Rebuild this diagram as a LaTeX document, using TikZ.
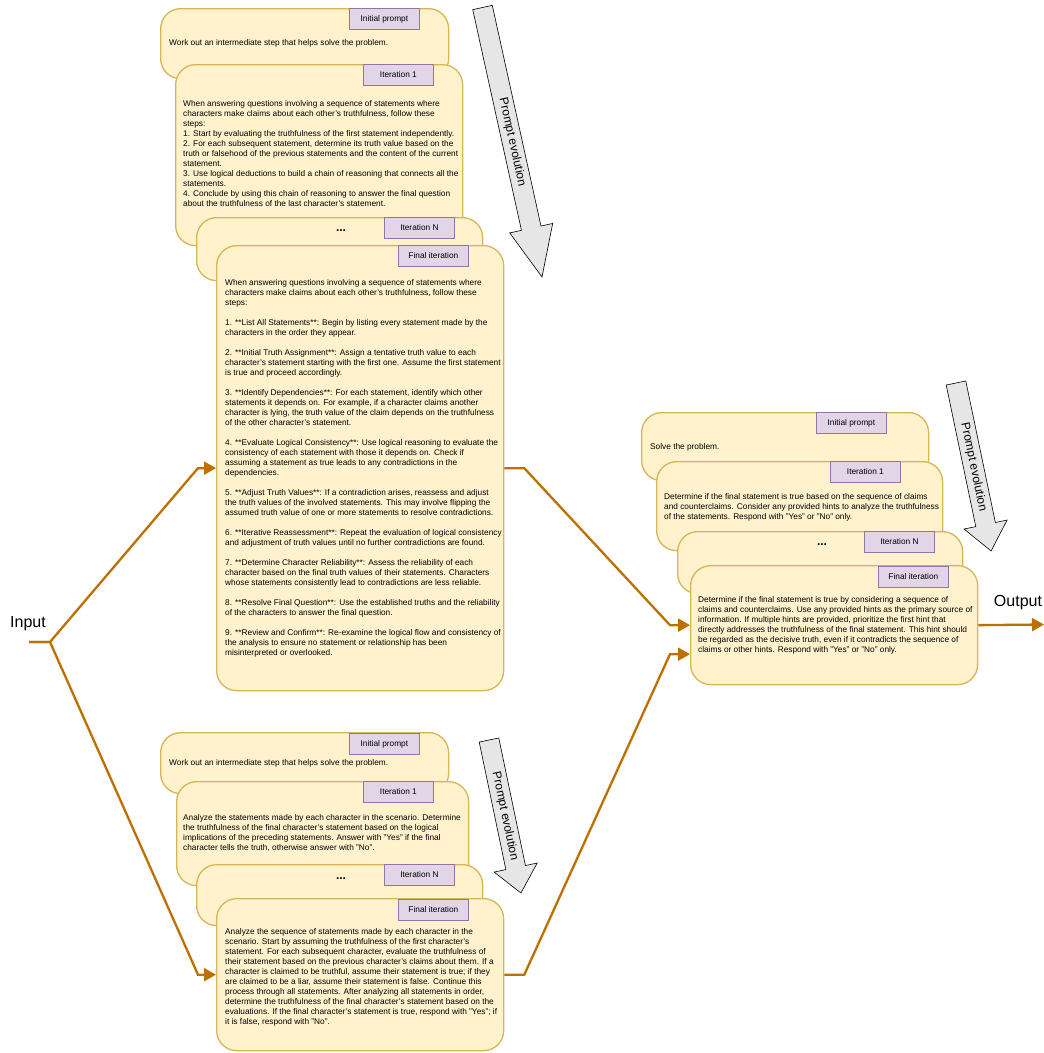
\documentclass[tikz,border=0pt]{standalone}
\usepackage{fontspec}
\setmainfont{Liberation Sans}
\usetikzlibrary{arrows.meta}

\definecolor{boxfill}{HTML}{FFF2CC}
\definecolor{boxline}{HTML}{D6B656}
\definecolor{tagfill}{HTML}{E1D5E7}
\definecolor{tagline}{HTML}{9673A6}
\definecolor{flowcol}{HTML}{BD7000}
\definecolor{evolfill}{HTML}{E6E6E6}

\begin{document}
\begin{tikzpicture}[
	x=1pt, y=-1pt,
	box/.style={draw=boxline, fill=boxfill, line width=1.3pt, rounded corners=20pt, anchor=north west, inner sep=0pt},
	tag/.style={draw=tagline, fill=tagfill, line width=0.8pt, anchor=north west, minimum width=70pt, minimum height=21pt, inner sep=0pt, font=\fontsize{8.3}{10}\selectfont},
	body/.style={anchor=north west, align=left, inner sep=0pt, font=\fontsize{8.3}{10}\selectfont},
	dots/.style={inner sep=0pt, font=\bfseries\fontsize{12}{14}\selectfont},
	io/.style={inner sep=0pt, font=\fontsize{16}{18}\selectfont},
	flow/.style={draw=flowcol, line width=2.3pt, -{Triangle[length=12pt, width=13pt]}},
	evol/.style={fill=evolfill, draw=black, line width=0.6pt},
	evoltext/.style={transform shape, inner sep=0pt, font=\fontsize{12}{14}\selectfont}
	]
	\useasboundingbox (0,0) rectangle (1044,1053);

	% Top stack
	\node[box, minimum width=288pt, minimum height=70pt] (tinit) at (160,8) {};
	\node[tag] (tinittag) at (349,8) {Initial prompt};
	\node[body] (tinittxt) at (169,39) {Work out an intermediate step that helps solve the problem.};

	\node[box, minimum width=287pt, minimum height=181pt] (tit1) at (175,64) {};
	\node[tag] (tit1tag) at (363,64) {Iteration 1};
	\node[body] (tit1txt) at (183,100) {When answering questions involving a sequence of statements where\\
		characters make claims about each other's truthfulness, follow these\\
		steps:\\
		1. Start by evaluating the truthfulness of the first statement independently.\\
		2. For each subsequent statement, determine its truth value based on the\\
		truth or falsehood of the previous statements and the content of the current\\
		statement.\\
		3. Use logical deductions to build a chain of reasoning that connects all the\\
		statements.\\
		4. Conclude by using this chain of reasoning to answer the final question\\
		about the truthfulness of the last character's statement.};

	\node[box, minimum width=286pt, minimum height=63pt] (titn) at (196,217) {};
	\node[tag] (titntag) at (384,217) {Iteration N};
	\node[dots] (titndots) at (341,231) {...};

	\node[box, minimum width=287pt, minimum height=445pt] (tfin) at (216,245) {};
	\node[tag] (tfintag) at (398,245) {Final iteration};
	\node[body] (tfintxt) at (225,279) {When answering questions involving a sequence of statements where\\
		characters make claims about each other's truthfulness, follow these\\
		steps:\\[10pt]
		1. **List All Statements**: Begin by listing every statement made by the\\
		characters in the order they appear.\\[10pt]
		2. **Initial Truth Assignment**: Assign a tentative truth value to each\\
		character's statement starting with the first one. Assume the first statement\\
		is true and proceed accordingly.\\[10pt]
		3. **Identify Dependencies**: For each statement, identify which other\\
		statements it depends on. For example, if a character claims another\\
		character is lying, the truth value of the claim depends on the truthfulness\\
		of the other character's statement.\\[10pt]
		4. **Evaluate Logical Consistency**: Use logical reasoning to evaluate the\\
		consistency of each statement with those it depends on. Check if\\
		assuming a statement as true leads to any contradictions in the\\
		dependencies.\\[10pt]
		5. **Adjust Truth Values**: If a contradiction arises, reassess and adjust\\
		the truth values of the involved statements. This may involve flipping the\\
		assumed truth value of one or more statements to resolve contradictions.\\[10pt]
		6. **Iterative Reassessment**: Repeat the evaluation of logical consistency\\
		and adjustment of truth values until no further contradictions are found.\\[10pt]
		7. **Determine Character Reliability**: Assess the reliability of each\\
		character based on the final truth values of their statements. Characters\\
		whose statements consistently lead to contradictions are less reliable.\\[10pt]
		8. **Resolve Final Question**: Use the established truths and the reliability\\
		of the characters to answer the final question.\\[10pt]
		9. **Review and Confirm**: Re-examine the logical flow and consistency of\\
		the analysis to ensure no statement or relationship has been\\
		misinterpreted or overlooked.};

	% Right stack
	\node[box, minimum width=287pt, minimum height=68pt] (rinit) at (641,412) {};
	\node[tag] (rinittag) at (816,412) {Initial prompt};
	\node[body] (rinittxt) at (650,443) {Solve the problem.};

	\node[box, minimum width=286pt, minimum height=89pt] (rit1) at (656,461) {};
	\node[tag] (rit1tag) at (830,461) {Iteration 1};
	\node[body] (rit1txt) at (664,493) {Determine if the final statement is true based on the sequence of claims\\
		and counterclaims. Consider any provided hints to analyze the truthfulness\\
		of the statements. Respond with "Yes" or "No" only.};

	\node[box, minimum width=285pt, minimum height=62pt] (ritn) at (677,531) {};
	\node[tag] (ritntag) at (864,531) {Iteration N};
	\node[dots] (ritndots) at (822,545) {...};

	\node[box, minimum width=287pt, minimum height=119pt] (rfin) at (690,565) {};
	\node[tag] (rfintag) at (878,566) {Final iteration};
	\node[body] (rfintxt) at (698,596) {Determine if the final statement is true by considering a sequence of\\
		claims and counterclaims. Use any provided hints as the primary source of\\
		information. If multiple hints are provided, prioritize the first hint that\\
		directly addresses the truthfulness of the final statement. This hint should\\
		be regarded as the decisive truth, even if it contradicts the sequence of\\
		claims or other hints. Respond with "Yes" or "No" only.};

	% Bottom stack
	\node[box, minimum width=288pt, minimum height=61pt] (binit) at (160,732) {};
	\node[tag] (binittag) at (349,733) {Initial prompt};
	\node[body] (binittxt) at (169,759) {Work out an intermediate step that helps solve the problem.};

	\node[box, minimum width=292pt, minimum height=104pt] (bit1) at (176,781) {};
	\node[tag] (bit1tag) at (363,781) {Iteration 1};
	\node[body] (bit1txt) at (183,814) {Analyze the statements made by each character in the scenario. Determine\\
		the truthfulness of the final character's statement based on the logical\\
		implications of the preceding statements. Answer with "Yes" if the final\\
		character tells the truth, otherwise answer with "No".};

	\node[box, minimum width=286pt, minimum height=61pt] (bitn) at (196,864) {};
	\node[tag] (bitntag) at (384,864) {Iteration N};
	\node[dots] (bitndots) at (341,879) {...};

	\node[box, minimum width=287pt, minimum height=152pt] (bfin) at (216,898) {};
	\node[tag] (bfintag) at (398,899) {Final iteration};
	\node[body] (bfintxt) at (225,928) {Analyze the sequence of statements made by each character in the\\
		scenario. Start by assuming the truthfulness of the first character's\\
		statement. For each subsequent character, evaluate the truthfulness of\\
		their statement based on the previous character's claims about them. If a\\
		character is claimed to be truthful, assume their statement is true; if they\\
		are claimed to be a liar, assume their statement is false. Continue this\\
		process through all statements. After analyzing all statements in order,\\
		determine the truthfulness of the final character's statement based on the\\
		evaluations. If the final character's statement is true, respond with "Yes"; if\\
		it is false, respond with "No".};

	% Prompt evolution arrows
	\begin{scope}[shift={(482.5,7.5)}, rotate=-77.55]
		\filldraw[evol] (0pt,10pt) -- (226pt,10pt) -- (226pt,22pt) -- (276pt,0pt) -- (226pt,-22pt) -- (226pt,-10pt) -- (0pt,-10pt) -- cycle;
		\node[evoltext] (tevol) at (138pt,0pt) {Prompt evolution};
	\end{scope}
	\begin{scope}[shift={(956,383)}, rotate=-78.2]
		\filldraw[evol] (0pt,10pt) -- (144.6pt,10pt) -- (144.6pt,22pt) -- (171.6pt,0pt) -- (144.6pt,-22pt) -- (144.6pt,-10pt) -- (0pt,-10pt) -- cycle;
		\node[evoltext] (revol) at (85.8pt,0pt) {Prompt evolution};
	\end{scope}
	\begin{scope}[shift={(489,740)}, rotate=-78.2]
		\filldraw[evol] (0pt,10pt) -- (130.3pt,10pt) -- (130.3pt,22pt) -- (156.3pt,0pt) -- (130.3pt,-22pt) -- (130.3pt,-10pt) -- (0pt,-10pt) -- cycle;
		\node[evoltext] (bevol) at (78pt,0pt) {Prompt evolution};
	\end{scope}

	% Input and output
	\node[io] (input) at (28,624) {Input};
	\node[io] (output) at (1018,603) {Output};
	\coordinate (instart) at (29,642);
	\coordinate (split) at (50,642);
	\coordinate (outend) at (1044,624.5);

	% Connectors
	\draw[flow] (instart) -- (split) -- ([xshift=-18pt]tfin.west) -- (tfin.west);
	\draw[flow] (instart) -- (split) -- ([xshift=-18pt]bfin.west) -- (bfin.west);
	\draw[flow] (tfin.east) -- ([xshift=20pt]tfin.east) -- ([xshift=-20pt]rfin.west) -- (rfin.west);
	\draw[flow] (bfin.east) -- ([xshift=20pt]bfin.east) -- ([xshift=-20pt,yshift=-29pt]rfin.west) -- ([yshift=-29pt]rfin.west);
	\draw[flow] (rfin.east) -- (outend);

\end{tikzpicture}
\end{document}
